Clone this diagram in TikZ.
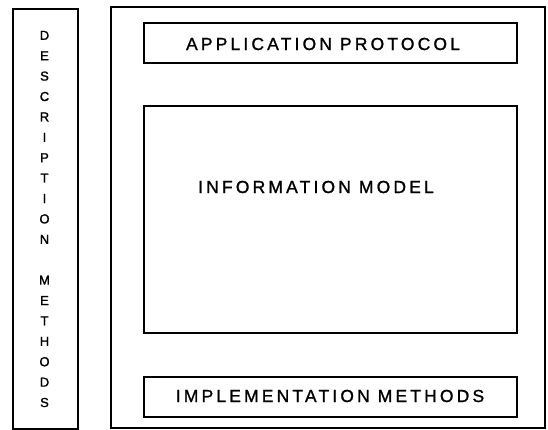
\documentclass[tikz,border=0pt]{standalone}
\usepackage{fontspec}
\setmainfont{Liberation Sans}
\newfontfamily\letterfont[LetterSpace=18,FakeBold=1.2]{Liberation Sans}
\newfontfamily\columnfont[FakeBold=1.5]{Liberation Sans}
\usetikzlibrary{positioning}
\tikzstyle{frame} = [draw=black,line width=1.6pt,rectangle,inner sep=0pt]
\tikzstyle{box} = [frame,minimum width=373pt,anchor=north west]
\tikzstyle{lbl} = [inner sep=0pt,font={\letterfont\fontsize{17.5}{20}\selectfont}]

\begin{document}
\begin{tikzpicture}[x=1pt,y=-1pt]
  \useasboundingbox (0,0) rectangle (548,430);

  % left column and outer frame
  \node [frame,minimum width=65pt,minimum height=420pt,anchor=north west] (desc) at (12,8) {};
  \node [frame,minimum width=434pt,minimum height=421pt,anchor=north west] (outer) at (110,6) {};

  \node [align=center,inner sep=0pt,font={\columnfont\fontsize{13}{20.4}\selectfont}] (desctext) at (44.5,219)
    {D\\E\\S\\C\\R\\I\\P\\T\\I\\O\\N\\[20.4pt]M\\E\\T\\H\\O\\D\\S};

  % inner boxes
  \node [box,minimum height=40pt] (proto) at (143,22) {};
  \node [box,minimum height=227pt] (info) at (143,105) {};
  \node [box,minimum height=40pt] (impl) at (143,376) {};

  \node [lbl] (prototext) at (323,44) {APPLICATION PROTOCOL};
  \node [lbl] (infotext) at (316,187) {INFORMATION MODEL};
  \node [lbl] (impltext) at (330,396) {IMPLEMENTATION METHODS};
\end{tikzpicture}
\end{document}
